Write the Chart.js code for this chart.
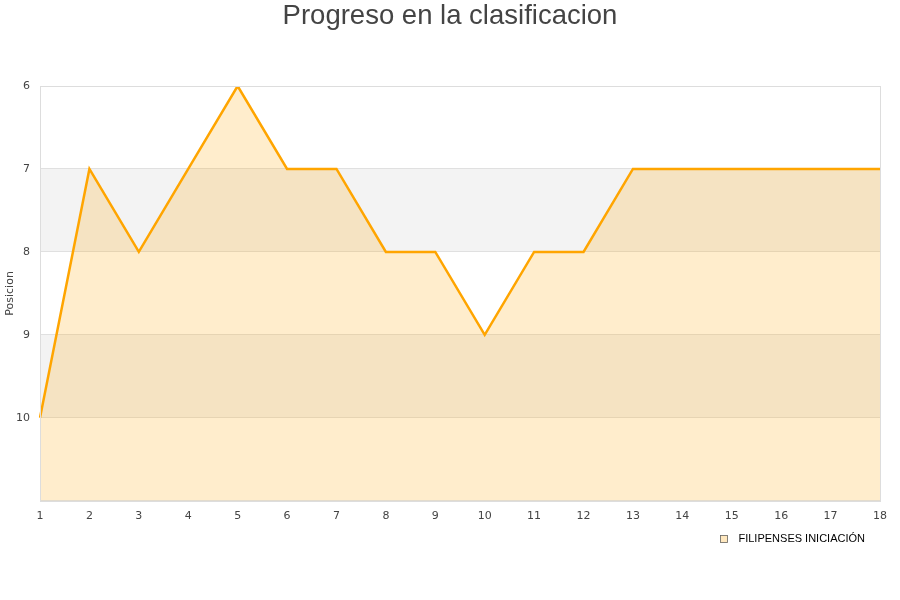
<!DOCTYPE html>
<html><head><meta charset="utf-8">
<script src="https://cdn.jsdelivr.net/npm/chart.js@4"></script>
<style>html,body{margin:0;padding:0;background:#fff}#wrap{width:900px;height:600px}</style>
</head><body><div id="wrap"><canvas id="c" width="900" height="600"></canvas></div>
<script>
const jornadas = [1,2,3,4,5,6,7,8,9,10,11,12,13,14,15,16,17,18];
const posiciones = [10,7,8,7,6,7,7,8,8,9,8,8,7,7,7,7,7,7];
const yTicks = [6,7,8,9,10];
const bands = [[7,8],[9,10]];
const chartTitle = 'Progreso en la clasificacion';
const yTitle = 'Posicion';

const bandPlugin = {
  id:'bands',
  beforeDraw(chart){
    const {ctx, chartArea:a, scales:{y}} = chart;
    ctx.save();
    ctx.fillStyle = '#f3f3f3';
    bands.forEach(([s,e])=>{
      const y1 = y.getPixelForValue(s), y2 = y.getPixelForValue(e);
      ctx.fillRect(a.left, Math.min(y1,y2), a.right-a.left, Math.abs(y2-y1));
    });
    ctx.restore();
  },
  afterDraw(chart){
    const {ctx, chartArea:a} = chart;
    ctx.save();
    ctx.strokeStyle = '#dddddd';
    ctx.lineWidth = 1;
    ctx.strokeRect(Math.round(a.left)+0.5, Math.round(a.top)+0.5, Math.round(a.right-a.left), Math.round(a.bottom-a.top));
    // title
    ctx.font = '27.5px "Liberation Sans"';
    ctx.fillStyle = '#444';
    ctx.textAlign = 'center';
    ctx.textBaseline = 'middle';
    ctx.fillText(chartTitle, chart.width / 2, 16);
    // y axis title
    ctx.save();
    ctx.translate(10, (a.top + a.bottom) / 2);
    ctx.rotate(-Math.PI/2);
    ctx.font = '11px "DejaVu Sans"';
    ctx.fillStyle = '#444';
    ctx.fillText(yTitle, 0, 0);
    ctx.restore();
    // legend
    const ds = chart.data.datasets[0];
    ctx.font = '11px "Liberation Sans"';
    ctx.fillStyle = '#000';
    ctx.textAlign = 'right';
    ctx.textBaseline = 'middle';
    const tx = a.right - 15, ty = a.bottom + 38;
    ctx.fillText(ds.label, tx, ty);
    const w = ctx.measureText(ds.label).width;
    const bx = Math.round(tx - w - 18);
    ctx.fillStyle = 'rgba(255,165,0,0.25)';
    ctx.fillRect(bx, Math.round(ty) - 4, 8, 8);
    ctx.strokeStyle = '#666';
    ctx.lineWidth = 0.8;
    ctx.strokeRect(bx + 0.5, Math.round(ty) - 3.5, 7, 7);
    ctx.restore();
  }
};

new Chart(document.getElementById('c'), {
  type:'line',
  data:{
    labels: jornadas,
    datasets:[{
      label:'FILIPENSES INICIACIÓN',
      data: posiciones,
      borderColor:'#ffa500',
      backgroundColor:'rgba(255,165,0,0.2)',
      borderWidth:2.5,
      pointRadius:0,
      tension:0,
      fill:{value:11}
    }]
  },
  options:{
    responsive:false,
    animation:false,
    layout:{padding:{left:0,right:20,top:86,bottom:76}},
    plugins:{
      title:{display:false},
      legend:{display:false},
      tooltip:{enabled:false}
    },
    scales:{
      x:{
        grid:{display:false},
        border:{display:false},
        ticks:{color:'#444',font:{family:'DejaVu Sans',size:11},maxRotation:0,autoSkip:false,padding:1}
      },
      y:{
        reverse:true,
        min:6,max:11,
        afterFit(s){s.width=40;},
        afterBuildTicks(s){s.ticks = yTicks.concat([11]).map(v=>({value:v}));},
        grid:{color:'#e0e0e0',drawTicks:false},
        border:{display:false},
        ticks:{color:'#444',font:{family:'DejaVu Sans',size:11},padding:10,callback:v=>v===11?'':v}
      }
    }
  },
  plugins:[bandPlugin]
});
</script></body></html>
